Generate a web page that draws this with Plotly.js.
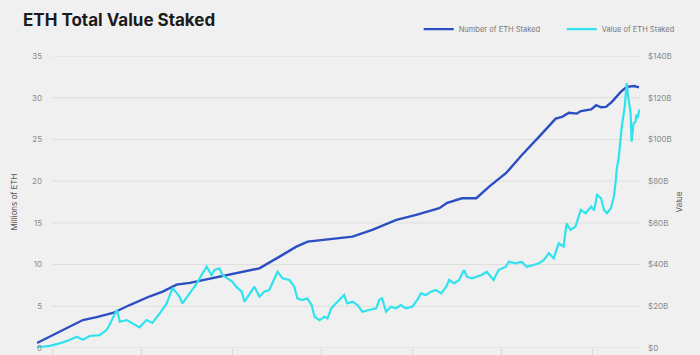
<!DOCTYPE html>
<html>
<head>
<meta charset="utf-8">
<script src="https://cdn.plot.ly/plotly-3.0.1.min.js"></script>
<style>
html,body{margin:0;padding:0;background:#f0f0f0;}
#chart{width:700px;height:355px;}
</style>
</head>
<body>
<div id="chart"></div>
<script>
// Number of ETH staked (millions)
const stakedDates = ["2020-12-01","2021-03-04","2021-04-01","2021-05-04","2021-06-07","2021-07-18","2021-08-13","2021-09-10","2021-10-07","2021-11-22","2022-01-10","2022-02-25","2022-04-07","2022-05-11","2022-06-03","2022-07-03","2022-08-06","2022-09-02","2022-10-12","2022-11-30","2023-01-09","2023-02-25","2023-03-13","2023-04-12","2023-05-11","2023-06-06","2023-07-10","2023-08-11","2023-09-15","2023-10-19","2023-11-01","2023-11-15","2023-12-01","2023-12-09","2023-12-30","2024-01-09","2024-01-19","2024-01-29","2024-02-10","2024-02-28","2024-03-11","2024-03-26","2024-04-05"];
const ethStaked = [0.6,3.35,3.7,4.2,5.15,6.2,6.75,7.6,7.8,8.35,8.95,9.55,10.95,12.15,12.75,12.95,13.15,13.35,14.15,15.35,15.95,16.75,17.4,17.95,17.95,19.35,20.95,23.1,25.3,27.5,27.7,28.2,28.1,28.4,28.6,29.1,28.85,28.9,29.5,30.7,31.3,31.4,31.25];

// Value of ETH staked (billions USD)
const valueDates = ["2020-12-01","2020-12-27","2021-01-16","2021-02-05","2021-02-20","2021-03-04","2021-03-18","2021-04-07","2021-04-21","2021-04-27","2021-05-12","2021-05-18","2021-06-01","2021-06-13","2021-06-27","2021-07-11","2021-07-23","2021-08-07","2021-08-21","2021-09-02","2021-09-16","2021-09-22","2021-10-06","2021-10-21","2021-11-02","2021-11-10","2021-11-20","2021-11-26","2021-12-06","2021-12-12","2021-12-22","2022-01-01","2022-01-09","2022-01-20","2022-01-26","2022-02-09","2022-02-15","2022-02-25","2022-03-07","2022-03-17","2022-03-28","2022-04-03","2022-04-13","2022-04-27","2022-05-07","2022-05-13","2022-05-23","2022-06-02","2022-06-11","2022-06-17","2022-06-27","2022-07-07","2022-07-13","2022-07-21","2022-07-27","2022-08-06","2022-08-16","2022-08-22","2022-09-02","2022-09-12","2022-09-22","2022-10-06","2022-10-20","2022-10-26","2022-11-01","2022-11-09","2022-11-19","2022-11-29","2022-12-09","2022-12-19","2023-01-01","2023-01-11","2023-01-19","2023-01-29","2023-02-08","2023-02-18","2023-03-01","2023-03-11","2023-03-17","2023-03-27","2023-04-06","2023-04-16","2023-04-22","2023-05-02","2023-05-12","2023-05-22","2023-06-01","2023-06-15","2023-06-25","2023-07-10","2023-07-16","2023-07-30","2023-08-11","2023-08-21","2023-09-04","2023-09-15","2023-09-25","2023-10-05","2023-10-15","2023-10-25","2023-11-04","2023-11-10","2023-11-18","2023-11-28","2023-12-09","2023-12-19","2023-12-30","2024-01-05","2024-01-11","2024-01-19","2024-01-25","2024-01-31","2024-02-08","2024-02-14","2024-02-18","2024-02-20","2024-02-24","2024-02-28","2024-03-01","2024-03-07","2024-03-11","2024-03-15","2024-03-19","2024-03-21","2024-03-25","2024-03-29","2024-03-31","2024-04-02","2024-04-06"];
const valueStaked = [0.3,1.0,2.2,3.8,5.4,4.0,5.75,6.2,8.6,11.0,18.2,12.6,13.4,11.8,9.9,13.4,12.0,16.6,21.4,28.8,24.6,21.4,26.2,31,35.8,39,35,37.4,38.2,35,33.4,31.8,29.4,27,22.2,27,29.4,24.6,27,27.8,33.4,36.6,33.4,32.6,29.4,23.8,23,23.8,20.6,15,13.4,15,14.2,19,20.6,23,25.4,21.4,22.2,20.6,17.4,18.2,19,23,23.8,17.4,19.8,19,20.6,19,19.8,23,26.2,25.4,27,27.8,26.2,29.4,32.6,31,32.6,37.4,34.2,33.4,34.2,35,36.6,32.6,37.4,39,41.4,40.6,41.4,39,39.8,40.6,42.2,45.4,43,50.2,48.6,59.8,56.6,58.2,66.2,64.6,67.8,66,73.4,71.8,66.2,64.6,67,72.6,80.6,86,91.6,101.3,106,115.7,127,118.9,112.5,98.9,107.7,108.5,112,110.1,114.4];

// Axis ticks
const leftTicks = [0,5,10,15,20,25,30,35];
const rightTicks = [0,20,40,60,80,100,120,140];
const rightTickText = ["$0","$20B","$40B","$60B","$80B","$100B","$120B","$140B"];

const gridShapes = leftTicks.map(v => ({
  type: 'line', xref: 'paper', yref: 'y', x0: 0.025, x1: 1, y0: v, y1: v,
  line: {color: '#dedede', width: 1}, layer: 'below'
}));

const traces = [
  {x: stakedDates, y: ethStaked, type: 'scatter', mode: 'lines', name: 'Number of ETH Staked',
   line: {color: '#2b4ec3', width: 2.4}, yaxis: 'y'},
  {x: valueDates, y: valueStaked, type: 'scatter', mode: 'lines', name: 'Value of ETH Staked',
   line: {color: '#2fe2ee', width: 2.2}, yaxis: 'y2'}
];

const layout = {
  width: 700, height: 355,
  paper_bgcolor: '#f0f0f0', plot_bgcolor: '#f0f0f0',
  margin: {l: 37, r: 60, t: 56, b: 7, autoexpand: false},
  font: {family: 'Inter, Roboto, sans-serif', color: '#888'},
  title: {text: 'ETH Total Value Staked', x: 23/700, xanchor: 'left', xref: 'container',
          y: 1 - 20/355, yanchor: 'middle', yref: 'container',
          font: {family: 'Inter, sans-serif', size: 17, color: '#1b1b1b', weight: 700}},
  showlegend: true,
  legend: {orientation: 'h', x: 0.633, xanchor: 'left', y: 1.092, yanchor: 'middle',
           font: {size: 7.5, color: '#777'}, bgcolor: 'rgba(0,0,0,0)', itemwidth: 30, entrywidth: 98},
  xaxis: {type: 'date', range: ['2020-12-01', '2024-04-07'], showgrid: false, zeroline: false,
          showline: false, ticks: 'outside', ticklen: 6, tickcolor: '#d6d6d6', automargin: false,
          tick0: '2021-01-01', dtick: 'M6', showticklabels: false},
  yaxis: {range: [0, 35], tickvals: leftTicks, showgrid: false, zeroline: false, automargin: false,
          tickfont: {size: 8, color: '#8a8a8a'}, ticklabelstandoff: -6,
          title: {text: 'Millions of ETH', font: {size: 8, color: '#555'}, standoff: 13}},
  yaxis2: {range: [0, 140], overlaying: 'y', side: 'right', tickvals: rightTicks, ticktext: rightTickText,
           showgrid: false, zeroline: false, automargin: false, tickfont: {size: 8, color: '#8a8a8a'}, ticklabelstandoff: 7,
           title: {text: 'Value', font: {size: 8, color: '#555'}, standoff: 5}},
  shapes: gridShapes
};

Plotly.newPlot('chart', traces, layout, {displayModeBar: false, staticPlot: true});
</script>
</body>
</html>
